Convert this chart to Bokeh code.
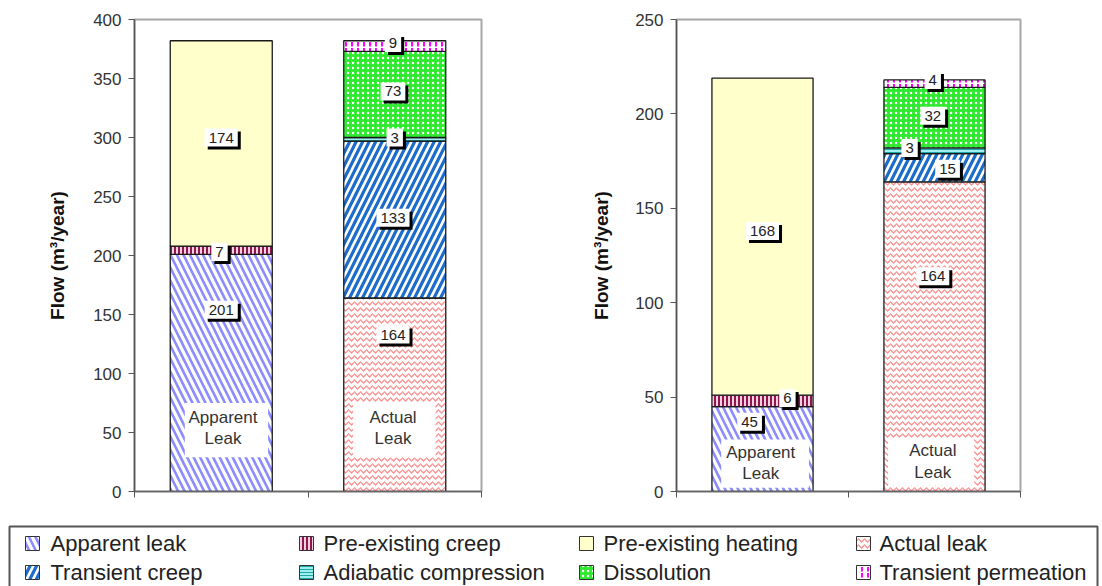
from bokeh.plotting import figure
from bokeh.models import Range1d, FixedTicker, Label
from bokeh.layouts import column, row
from bokeh.embed import file_html
from bokeh.resources import INLINE
from bokeh.core.properties import value

# ---------------- data ----------------
categories = ["Apparent Leak", "Actual Leak"]
series_names = ["Apparent leak", "Pre-existing creep", "Pre-existing heating", "Actual leak",
                "Transient creep", "Adiabatic compression", "Dissolution", "Transient permeation"]

# panel (a)
a_apparent_leak = [201, 0]
a_preexisting_creep = [7, 0]
a_preexisting_heating = [174, 0]
a_actual_leak = [0, 164]
a_transient_creep = [0, 133]
a_adiabatic_compression = [0, 3]
a_dissolution = [0, 73]
a_transient_permeation = [0, 9]

# panel (b)
b_apparent_leak = [45, 0]
b_preexisting_creep = [6, 0]
b_preexisting_heating = [168, 0]
b_actual_leak = [0, 164]
b_transient_creep = [0, 15]
b_adiabatic_compression = [0, 3]
b_dissolution = [0, 32]
b_transient_permeation = [0, 4]

a_ticks = [0, 50, 100, 150, 200, 250, 300, 350, 400]
b_ticks = [0, 50, 100, 150, 200, 250]

panel_a = [a_apparent_leak, a_preexisting_creep, a_preexisting_heating, a_actual_leak,
           a_transient_creep, a_adiabatic_compression, a_dissolution, a_transient_permeation]
panel_b = [b_apparent_leak, b_preexisting_creep, b_preexisting_heating, b_actual_leak,
           b_transient_creep, b_adiabatic_compression, b_dissolution, b_transient_permeation]

# ---------------- styles ----------------
styles = {
    "Apparent leak": dict(fill_color="white", hatch_pattern="left_diagonal_line", hatch_color="#8C8CFF", hatch_scale=13, hatch_weight=2.6),
    "Pre-existing creep": dict(fill_color="#F2D0DE", hatch_pattern="vertical_line", hatch_color="#8E1550", hatch_scale=4, hatch_weight=2),
    "Pre-existing heating": dict(fill_color="#FFFFCC"),
    "Actual leak": dict(fill_color="white", hatch_pattern="horizontal_wave", hatch_color="#FF9494", hatch_scale=6, hatch_weight=1.3),
    "Transient creep": dict(fill_color="white", hatch_pattern="right_diagonal_line", hatch_color="#1C6CCC", hatch_scale=13, hatch_weight=3.2),
    "Adiabatic compression": dict(fill_color="#9EEFEF", hatch_pattern="horizontal_line", hatch_color="#20A8A8", hatch_scale=3, hatch_weight=1),
    "Dissolution": dict(fill_color="#2EEA2E", hatch_pattern="dot", hatch_color="white", hatch_scale=5, hatch_weight=2),
    "Transient permeation": dict(fill_color="white", hatch_pattern="vertical_dash", hatch_color="#FF00FF", hatch_scale=6, hatch_weight=2),
}

FONT = "Liberation Sans"
xs = [0.5, 1.5]
BAR_W = 0.588


def make_panel(data, ticks, ymax, width, bl, br, bt, bb, lab_standoff, label_pos, box_pos, tag, tag_pos):
    p = figure(width=width, height=513, x_range=Range1d(0, 2), y_range=Range1d(0, ymax),
               output_backend="svg", toolbar_location=None,
               min_border_left=bl, min_border_right=br, min_border_top=bt, min_border_bottom=bb)
    p.xgrid.visible = False
    p.ygrid.visible = False
    p.outline_line_color = "#A8A8A8"
    p.outline_line_width = 2
    p.background_fill_color = "white"
    p.border_fill_color = "white"

    yax = p.yaxis[0]
    yax.ticker = FixedTicker(ticks=ticks)
    yax.major_label_text_font = FONT
    yax.major_label_text_font_size = "17px"
    yax.major_label_text_color = "#333333"
    yax.axis_line_color = "#555555"
    yax.axis_line_width = 1.5
    yax.major_tick_line_color = "#555555"
    yax.major_tick_out = 6
    yax.major_tick_in = 0
    yax.minor_tick_out = 0
    yax.minor_tick_in = 0
    yax.major_label_standoff = 7
    yax.axis_label = "Flow (m\u00b3/year)"
    yax.axis_label_text_font = FONT
    yax.axis_label_text_font_style = "bold"
    yax.axis_label_text_font_size = "19px"
    yax.axis_label_text_color = "#111111"
    yax.axis_label_standoff = lab_standoff

    xax = p.xaxis[0]
    xax.ticker = FixedTicker(ticks=[0, 1, 2])
    xax.major_label_overrides = {0: "", 1: "", 2: ""}
    xax.major_tick_out = 6
    xax.major_tick_in = 0
    xax.minor_tick_out = 0
    xax.axis_line_color = "#666666"
    xax.axis_line_width = 1.5
    xax.major_tick_line_color = "#555555"

    cum = [0, 0]
    for name, vals in zip(series_names, data):
        for i in range(2):
            if vals[i] <= 0:
                continue
            p.vbar(x=[xs[i]], bottom=[cum[i]], top=[cum[i] + vals[i]], width=BAR_W,
                   line_color="#1A1A1A", line_width=1.3, **styles[name])
        cum = [cum[0] + vals[0], cum[1] + vals[1]]

    # white boxes with category text
    for (l, r, b, t), txt, (tx, ty1, ty2) in box_pos:
        p.quad(left=[l], right=[r], bottom=[b], top=[t], fill_color="white", line_color=None)
        w1, w2 = txt.split(" ")
        p.text(x=[tx, tx], y=[ty1, ty2], text=[w1, w2], text_align="center", text_baseline="middle",
               text_font=value(FONT), text_font_size="17px", text_color="#333333")

    # value labels with drop shadow
    lx, ly, lt = [], [], []
    for (si, ci), (x, y) in label_pos.items():
        lx.append(x)
        ly.append(y)
        lt.append(str(data[si][ci]))
    p.text(x=lx, y=ly, text=lt, x_offset=3, y_offset=3, text_align="center", text_baseline="middle",
           text_font=value(FONT), text_font_size="15px", text_color="black",
           background_fill_color="black", padding=4)
    p.text(x=lx, y=ly, text=lt, text_align="center", text_baseline="middle",
           text_font=value(FONT), text_font_size="15px", text_color="#222222",
           background_fill_color="white", padding=4)

    p.add_layout(Label(x=tag_pos[0], y=tag_pos[1], text=tag, text_font="Liberation Serif",
                       text_font_size="30px", text_color="black", text_baseline="middle",
                       text_align="left"))
    return p


label_pos_a = {
    (2, 0): (0.50, 300), (1, 0): (0.49, 203), (0, 0): (0.50, 154),
    (7, 1): (1.49, 380), (6, 1): (1.49, 339), (5, 1): (1.50, 300),
    (4, 1): (1.49, 232), (3, 1): (1.49, 133),
}
box_a = [((0.29, 0.77, 29, 75), "Apparent Leak", (0.51, 63, 45)),
         ((1.26, 1.735, 29, 75), "Actual Leak", (1.49, 63, 45))]

label_pos_b = {
    (2, 0): (0.50, 138), (1, 0): (0.645, 49.5), (0, 0): (0.425, 37),
    (7, 1): (1.49, 218), (6, 1): (1.49, 199), (5, 1): (1.355, 182),
    (4, 1): (1.576, 171), (3, 1): (1.49, 114),
}
box_b = [((0.26, 0.77, 2, 27.5), "Apparent Leak", (0.49, 20.6, 9.5)),
         ((1.23, 1.73, 3, 28.5), "Actual Leak", (1.49, 21.7, 10))]

pa = make_panel(panel_a, a_ticks, 400, 548, 134, 67, 19, 21, 22, label_pos_a, box_a, "(a)", (-0.49, 20))
pb = make_panel(panel_b, b_ticks, 250, 554, 128, 82, 18, 22, 20, label_pos_b, box_b, "(b)", (-0.56, 12))

# ---------------- legend ----------------
pl = figure(width=1102, height=73, x_range=Range1d(0, 1102), y_range=Range1d(73, 0),
            output_backend="svg", toolbar_location=None, min_border=0)
pl.axis.visible = False
pl.xgrid.visible = False
pl.ygrid.visible = False
pl.outline_line_color = None
pl.quad(left=[9], right=[1097], top=[13], bottom=[95], fill_color=None, line_color="#555555", line_width=2)

col_sw = [32, 306, 586, 863]
col_tx = [50, 323, 603, 879]
row_y = [30, 59]
legend_order = [[0, 1, 2, 3], [4, 5, 6, 7]]
for r, idxs in enumerate(legend_order):
    for c, si in enumerate(idxs):
        name = series_names[si]
        pl.rect(x=[col_sw[c]], y=[row_y[r]], width=14, height=14, line_color="#333333", line_width=1,
                **styles[name])
        pl.text(x=[col_tx[c]], y=[row_y[r]], text=[name], text_align="left", text_baseline="middle",
                text_font=value(FONT), text_font_size="22px", text_color="#222222")

layout = column(row(pa, pb), pl)
open("out.html", "w").write(file_html(layout, INLINE))
